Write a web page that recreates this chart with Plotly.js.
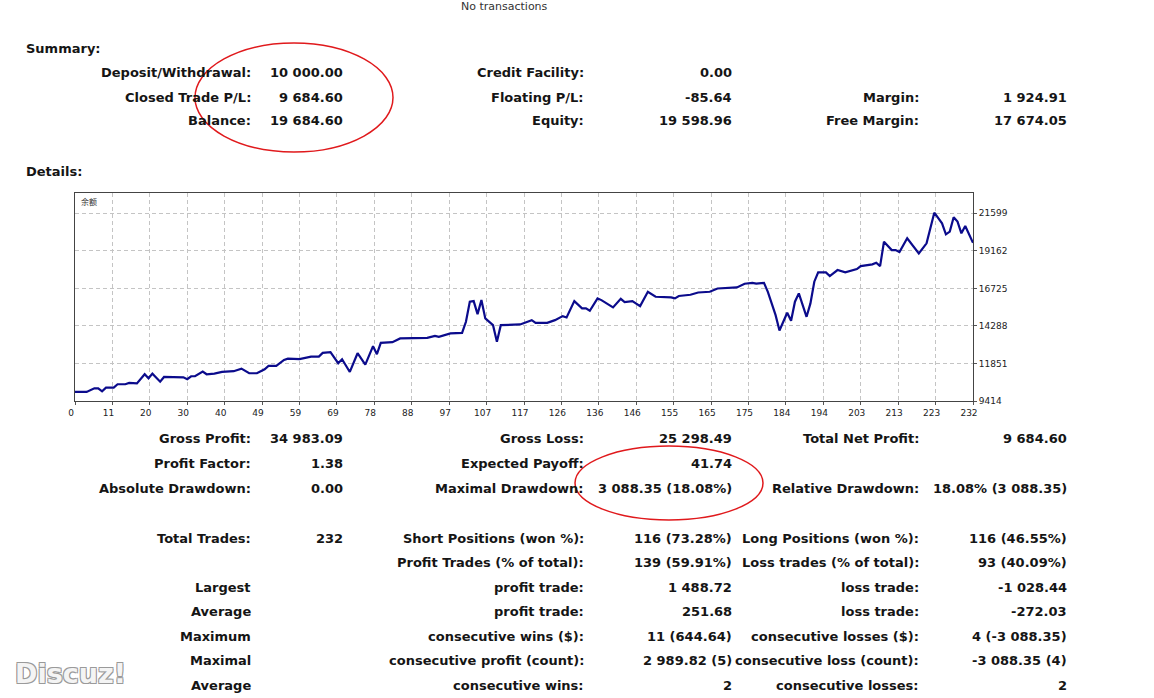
<!DOCTYPE html>
<html>
<head>
<meta charset="utf-8">
<script src="https://cdn.plot.ly/plotly-3.0.1.min.js"></script>
<style>
  html, body { margin: 0; padding: 0; background: #fff; }
  #chart { width: 1154px; height: 698px; }
</style>
</head>
<body>
<div id="chart"></div>
<script>
// balance curve (trade number -> balance)
const trade = [0, 3, 5, 6, 7, 8, 10, 11, 13, 14, 16, 18, 19, 20, 22, 23, 28, 29, 30, 31,
  33, 34, 36, 38, 41, 43, 45, 47, 49, 50, 52, 54, 55, 58, 61, 63, 64, 66, 68, 69,
  71, 73, 75, 77, 78, 79, 82, 84, 91, 93, 94, 97, 100, 101, 102, 103, 104, 105, 106, 108,
  109, 110, 115, 117, 118, 119, 122, 124, 126, 127, 129, 131, 132, 133, 135, 136, 139, 141, 142, 144,
  146, 148, 150, 154, 155, 156, 159, 161, 164, 166, 171, 173, 175, 176, 178, 179, 180, 181, 182, 183,
  184, 185, 186, 187, 189, 190, 191, 192, 194, 195, 197, 199, 201, 202, 203, 206, 207, 208, 209, 211,
  212, 213, 215, 218, 220, 222, 224, 225, 226, 227, 228, 229, 230, 232];
const balance = [10000, 10000, 10240, 10240, 10045, 10280, 10280, 10500, 10500, 10590, 10560, 11150, 10890, 11190, 10670, 10975, 10950, 10830, 11020, 11030,
  11320, 11150, 11190, 11300, 11350, 11515, 11215, 11215, 11475, 11690, 11690, 12080, 12165, 12130, 12295, 12295, 12535, 12580, 11865, 12125,
  11300, 12515, 11780, 12975, 12455, 13190, 13235, 13475, 13515, 13645, 13580, 13800, 13840, 14555, 15855, 15900, 15055, 15965, 14775, 14340,
  13255, 14340, 14385, 14555, 14665, 14490, 14490, 14665, 14925, 14840, 15900, 15425, 15425, 15270, 16075, 15965, 15490, 16050, 15835, 15900,
  15575, 16505, 16180, 16140, 16080, 16230, 16310, 16460, 16505, 16720, 16790, 17025, 17080, 17030, 17082, 16500, 15750, 14990, 13994, 14560,
  15140, 14620, 15860, 16400, 14880, 15750, 17160, 17760, 17760, 17525, 17915, 17765, 17915, 17980, 18175, 18285, 18390, 18175, 19755, 19215,
  19215, 19085, 19975, 19000, 19650, 21640, 20950, 20235, 20410, 21340, 21060, 20300, 20775, 19684.6];

const yTickVals = [9414, 11851, 14288, 16725, 19162, 21599];
const xTickText = ['0', '11', '20', '30', '40', '49', '59', '69', '78', '88', '97', '107', '117',
  '126', '136', '146', '155', '165', '175', '184', '194', '203', '213', '223', '232'];

const summaryRows = [
  ['Deposit/Withdrawal:', '10 000.00', 'Credit Facility:', '0.00', '', ''],
  ['Closed Trade P/L:', '9 684.60', 'Floating P/L:', '-85.64', 'Margin:', '1 924.91'],
  ['Balance:', '19 684.60', 'Equity:', '19 598.96', 'Free Margin:', '17 674.05'],
];
const detailRows = [
  ['Gross Profit:', '34 983.09', 'Gross Loss:', '25 298.49', 'Total Net Profit:', '9 684.60'],
  ['Profit Factor:', '1.38', 'Expected Payoff:', '41.74', '', ''],
  ['Absolute Drawdown:', '0.00', 'Maximal Drawdown:', '3 088.35 (18.08%)', 'Relative Drawdown:', '18.08% (3 088.35)'],
  ['Total Trades:', '232', 'Short Positions (won %):', '116 (73.28%)', 'Long Positions (won %):', '116 (46.55%)'],
  ['', '', 'Profit Trades (% of total):', '139 (59.91%)', 'Loss trades (% of total):', '93 (40.09%)'],
  ['Largest', '', 'profit trade:', '1 488.72', 'loss trade:', '-1 028.44'],
  ['Average', '', 'profit trade:', '251.68', 'loss trade:', '-272.03'],
  ['Maximum', '', 'consecutive wins ($):', '11 (644.64)', 'consecutive losses ($):', '4 (-3 088.35)'],
  ['Maximal', '', 'consecutive profit (count):', '2 989.82 (5)', 'consecutive loss (count):', '-3 088.35 (4)'],
  ['Average', '', 'consecutive wins:', '2', 'consecutive losses:', '2'],
];

// page geometry in pixels
const L = 75, T = 193, W = 898, H = 208;
const px = (x) => (x - L) / W;
const py = (y) => (T + H - y) / H;
const colRight = [253, 345, 586, 734, 921, 1069];
const summaryY = [72, 97, 121];
const detailY = [438, 463, 488, 538, 562, 587, 611, 636, 660, 685];

const FONT = 'Tahoma, "DejaVu Sans", sans-serif';

const txt = (x, y, text, anchor, font) => ({
  xref: 'paper', yref: 'paper', x: px(x), y: py(y),
  text, xanchor: anchor, yanchor: 'middle', showarrow: false,
  font: Object.assign({ family: FONT, size: 13, color: '#151515' }, font || {}),
});

const annotations = [];
const addRows = (rows, ys) => {
  rows.forEach((row, r) => {
    row.forEach((cell, c) => {
      if (cell) annotations.push(txt(colRight[c], ys[r], '<b>' + cell + '</b>', 'right'));
    });
  });
};
addRows(summaryRows, summaryY);
addRows(detailRows, detailY);

annotations.push(txt(24, 48, '<b>Summary:</b>', 'left'));
annotations.push(txt(24, 171, '<b>Details:</b>', 'left'));
annotations.push(txt(504, 6, 'No transactions', 'center', { size: 11, color: '#333' }));
annotations.push(txt(79, 201, '余额', 'left', { family: '"Noto Sans CJK SC", sans-serif', size: 8, color: '#333' }));
annotations.push(txt(13, 673, '<b>Discuz!</b>', 'left', {
  size: 27, color: '#f4f4f4',
  shadow: '-1px -1px 0 #9a9a9a, 1px -1px 0 #9a9a9a, -1px 1px 0 #9a9a9a, 1px 1px 0 #9a9a9a',
}));

const ellipse = (x0, y0, x1, y1) => ({
  type: 'circle', xref: 'paper', yref: 'paper',
  x0: px(x0), x1: px(x1), y0: py(y1), y1: py(y0),
  line: { color: '#e0191c', width: 1.5 },
});

const balance_line = {
  x: trade,
  y: balance,
  mode: 'lines',
  type: 'scatter',
  line: { color: '#0b0b8c', width: 2.2 },
  hoverinfo: 'skip',
};

const layout = {
  width: 1154,
  height: 698,
  margin: { l: L, r: 1154 - L - W, t: T, b: 698 - T - H, pad: 0 },
  paper_bgcolor: '#fff',
  plot_bgcolor: '#fff',
  showlegend: false,
  xaxis: {
    range: [0, 232],
    tickvals: xTickText.map((_, i) => (i * 232) / 24),
    ticktext: xTickText,
    ticks: 'outside', ticklen: 3, tickcolor: '#555',
    ticklabelshift: -4,
    showgrid: true, gridcolor: '#c4c4c4', griddash: '4px,3px',
    showline: true, mirror: true, linecolor: '#444', linewidth: 1,
    zeroline: false,
    tickfont: { family: FONT, size: 9, color: '#222' },
  },
  yaxis: {
    side: 'right',
    range: [9414, 22918],
    tickvals: yTickVals,
    tickformat: 'd',
    ticks: 'outside', ticklen: 3, tickcolor: '#555',
    showgrid: true, gridcolor: '#c4c4c4', griddash: '4px,3px',
    showline: true, mirror: true, linecolor: '#444', linewidth: 1,
    zeroline: false,
    tickfont: { family: FONT, size: 9, color: '#222' },
  },
  annotations,
  shapes: [ellipse(195, 43, 393, 152), ellipse(575, 446, 763, 520)],
};

Plotly.newPlot('chart', [balance_line], layout, { staticPlot: true });
</script>
</body>
</html>
